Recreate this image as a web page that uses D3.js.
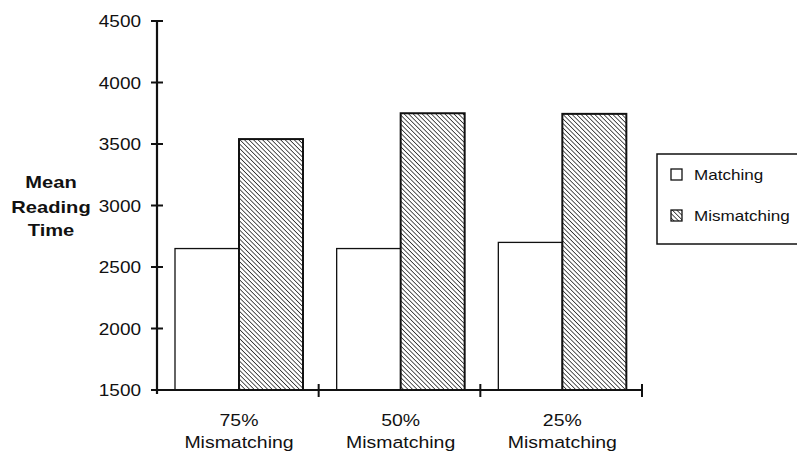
<!DOCTYPE html>
<html><head><meta charset="utf-8">
<script src="https://cdn.jsdelivr.net/npm/d3@7"></script>
<style>body{margin:0;background:#fff}svg{display:block}text{font-family:"Liberation Sans",Arial,sans-serif;fill:#111}</style>
</head><body>
<svg id="c" width="797" height="454"></svg>
<script>
const categories = ["75%|Mismatching", "50%|Mismatching", "25%|Mismatching"];
const seriesNames = ["Matching", "Mismatching"];
const matching = [2650, 2650, 2700];
const mismatching = [3540, 3750, 3745];
const yTicks = [1500, 2000, 2500, 3000, 3500, 4000, 4500];

const svg = d3.select("#c");
const x0 = 157, x1 = 642, yTop = 21, yBot = 390;
const x = d3.scaleBand().domain(categories).range([x0, x1]);
const xs = d3.scaleBand().domain(seriesNames).range([0, 128]);
const y = d3.scaleLinear().domain([1500, 4500]).range([yBot, yTop]);

function label(g, tx, ty, str, size, anchor, sx, bold) {
  return g.append("text").attr("transform", `translate(${tx},${ty}) scale(${sx},1)`)
    .attr("text-anchor", anchor).attr("font-size", size)
    .attr("font-weight", bold ? "bold" : "normal").text(str);
}

const defs = svg.append("defs");
const pat = defs.append("pattern").attr("id","hatch").attr("patternUnits","userSpaceOnUse")
  .attr("width",3.2).attr("height",3.2).attr("patternTransform","rotate(-45)");
pat.append("rect").attr("width",3.2).attr("height",3.2).attr("fill","#fff");
pat.append("line").attr("x1",0).attr("y1",0).attr("x2",0).attr("y2",3.2).attr("stroke","#111").attr("stroke-width",1.4);

const data = [matching, mismatching];
const offset = 18;
categories.forEach((c, i) => {
  seriesNames.forEach((s, j) => {
    const v = data[j][i];
    svg.append("rect")
      .attr("x", x(c) + offset + xs(s))
      .attr("y", y(v))
      .attr("width", xs.bandwidth())
      .attr("height", y(1500) - y(v))
      .attr("fill", j === 0 ? "#fff" : "url(#hatch)")
      .attr("stroke", "#111")
      .attr("stroke-width", j === 0 ? 1.3 : 2);
  });
});

// Y axis
const yAxis = svg.append("g");
yAxis.append("line").attr("x1",x0).attr("x2",x0).attr("y1",yTop).attr("y2",yBot+4).attr("stroke","#111").attr("stroke-width",2.2);
yTicks.forEach(t => {
  yAxis.append("line").attr("x1",x0-6).attr("x2",x0+6).attr("y1",y(t)).attr("y2",y(t)).attr("stroke","#111").attr("stroke-width",2);
  label(yAxis, 141, y(t)+6, t, 16.5, "end", 1.15, false);
});

// X axis
const xAxis = svg.append("g");
xAxis.append("line").attr("x1",x0).attr("x2",x1).attr("y1",yBot).attr("y2",yBot).attr("stroke","#111").attr("stroke-width",2.2);
categories.forEach((c, i) => {
  const xe = x(c) + x.bandwidth();
  xAxis.append("line").attr("x1",xe).attr("x2",xe).attr("y1",yBot-6).attr("y2",yBot+7).attr("stroke","#111").attr("stroke-width",2);
  const cx = x(c) + offset + 64;
  const parts = c.split("|");
  label(xAxis, cx, 426, parts[0], 16.5, "middle", 1.18, false);
  label(xAxis, cx, 448, parts[1], 16.5, "middle", 1.18, false);
});

// Y label
["Mean","Reading","Time"].forEach((t, i) => {
  label(svg, 51, [188, 213, 236][i], t, 16.5, "middle", 1.22, true);
});

// Legend
const lg = svg.append("g");
lg.append("rect").attr("x",657).attr("y",154).attr("width",145).attr("height",90).attr("fill","#fff").attr("stroke","#111").attr("stroke-width",1.5);
seriesNames.forEach((s, j) => {
  const yy = [169, 210][j];
  lg.append("rect").attr("x",671).attr("y",yy).attr("width",11).attr("height",11)
    .attr("fill", j===0 ? "#fff" : "url(#hatch)").attr("stroke","#111").attr("stroke-width",1.3);
  label(lg, 694, yy+11, s, 14, "start", 1.22, false);
});
</script>
</body></html>
